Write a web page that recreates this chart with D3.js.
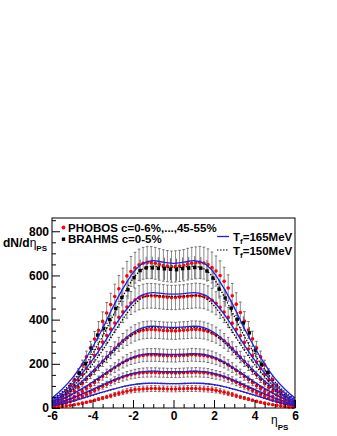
<!DOCTYPE html>
<html>
<head>
<meta charset="UTF-8">
<script src="https://d3js.org/d3.v7.min.js"></script>
<style>
body { margin: 0; background: #fff; }
svg { display: block; font-family: "Liberation Sans", Arial, sans-serif; }
</style>
</head>
<body>
<svg id="canvas"></svg>
<script>

// PHOBOS points, eta = -5.9 ... 5.9 in steps of 0.2
etaPhobos = [-5.9,-5.7,-5.5,-5.3,-5.1,-4.9,-4.7,-4.5,-4.3,-4.1,-3.9,-3.7,-3.5,-3.3,-3.1,-2.9,-2.7,-2.5,-2.3,-2.1,
             -1.9,-1.7,-1.5,-1.3,-1.1,-0.9,-0.7,-0.5,-0.3,-0.1,0.1,0.3,0.5,0.7,0.9,1.1,1.3,1.5,1.7,1.9,
             2.1,2.3,2.5,2.7,2.9,3.1,3.3,3.5,3.7,3.9,4.1,4.3,4.5,4.7,4.9,5.1,5.3,5.5,5.7,5.9];

phobos_0_6   = [28,40,56,76,100,128,160,195,232,272,312,352,392,430,468,505,540,570,598,618,635,648,655,658,658,655,650,645,642,640,
                641,643,646,651,655,657,659,656,649,636,620,600,574,543,508,470,432,393,353,313,272,232,195,160,128,100,76,56,40,28];
phobos_6_15  = [22,32,45,61,80,102,126,152,179,208,238,268,298,328,357,385,411,435,457,475,489,499,505,508,508,507,505,503,501,500,
                500,502,503,506,507,509,508,505,498,488,474,456,434,410,384,356,327,297,267,237,208,179,152,126,102,80,61,45,32,22];
phobos_15_25 = [16,24,34,46,60,76,93,111,130,150,170,191,211,231,251,270,288,304,318,330,340,347,352,354,355,354,353,351,350,350,
                349,351,352,353,355,355,354,351,346,339,330,318,304,288,270,251,231,211,191,170,150,130,111,93,76,60,46,34,24,16];
phobos_25_35 = [11,17,24,32,41,52,63,75,88,101,115,129,143,157,170,183,195,206,216,224,230,235,238,240,240,240,239,238,237,237,
                236,238,238,239,241,240,239,238,234,230,223,215,206,195,183,170,157,143,129,115,101,88,75,63,52,41,32,24,17,11];
phobos_35_45 = [8,12,17,22,29,36,44,52,61,70,79,89,98,107,116,125,133,140,146,151,155,158,160,161,161,161,160,160,159,159,
                158,159,160,161,161,162,161,160,158,154,150,146,140,133,125,116,107,98,89,79,70,61,52,44,36,29,22,17,12,8];
phobos_45_55 = [3,5,7,9,12,15,18,22,26,30,35,40,45,50,55,61,66,71,76,80,83,85,86,87,88,88,87,87,86,86,
                86,87,87,88,88,88,87,86,85,83,80,76,71,66,61,55,50,45,40,35,30,26,22,18,15,12,9,7,5,3];
phobosSeries = [phobos_0_6, phobos_6_15, phobos_15_25, phobos_25_35, phobos_35_45, phobos_45_55];
phobosErr = [0.11, 0.11, 0.11, 0.12, 0.13, 0.15];   // relative error

// BRAHMS 0-5%
etaBrahms = [-4.65,-4.35,-4.05,-3.75,-3.45,-3.15,-2.85,-2.55,-2.25,-1.95,-1.65,-1.35,-1.05,-0.75,-0.45,-0.15,
             0.15,0.45,0.75,1.05,1.35,1.65,1.95,2.25,2.55,2.85,3.15,3.45,3.75,4.05,4.35,4.65];
brahms_0_5 = [158,200,270,330,360,400,450,500,535,590,622,634,634,632,630,628,
              626,631,633,636,633,620,588,538,498,452,402,385,340,262,198,160];
brahmsErr = 0.08;

// model curves
etaModel = [-6,-5.5,-5,-4.5,-4,-3.5,-3,-2.5,-2,-1.5,-1,-0.5,0,0.5,1,1.5,2,2.5,3,3.5,4,4.5,5,5.5,6];
tf165 = [
  [45,85,135,200,275,360,455,540,612,655,667,660,655,660,667,655,612,540,455,360,275,200,135,85,45],
  [36,67,107,158,218,285,357,425,480,513,522,518,515,518,522,513,480,425,357,285,218,158,107,67,36],
  [30,54,85,122,165,212,260,306,342,364,370,367,365,367,370,364,342,306,260,212,165,122,85,54,30],
  [23,41,63,89,118,149,180,208,230,243,246,244,243,244,246,243,230,208,180,149,118,89,63,41,23],
  [16,29,45,64,84,105,125,143,157,165,167,165,164,165,167,165,157,143,125,105,84,64,45,29,16],
  [11,20,31,44,58,72,85,97,106,111,113,111,110,111,113,111,106,97,85,72,58,44,31,20,11]
];
tf150 = [
  [40,73,118,175,245,325,415,505,585,630,642,638,635,638,642,630,585,505,415,325,245,175,118,73,40],
  [32,59,95,142,198,262,332,402,463,500,510,507,505,507,510,500,463,402,332,262,198,142,95,59,32],
  [28,50,79,114,156,202,250,296,334,357,364,362,360,362,364,357,334,296,250,202,156,114,79,50,28],
  [22,39,61,86,114,145,176,204,227,241,244,242,241,242,244,241,227,204,176,145,114,86,61,39,22],
  [15,28,44,62,82,103,123,141,155,164,166,164,163,164,166,164,155,141,123,103,82,62,44,28,15],
  [10,19,30,43,57,71,84,96,105,111,112,111,110,111,112,111,105,96,84,71,57,43,30,19,10]
];

yTicks = [0, 200, 400, 600, 800];
xTicks = [-6, -4, -2, 0, 2, 4, 6];

width = 337;
height = 436;

canvas = d3.select("#canvas")
    .attr("width", width)
    .attr("height", height);

x = d3.scaleLinear().domain([-6, 6]).range([52, 295]);
y = d3.scaleLinear().domain([0, 860]).range([408, 218]);

// PHOBOS error bars + points
phobosSeries.forEach(function(vals, i) {
    var e = phobosErr[i];
    var g = canvas.append("g");
    var pts = vals.map((v, j) => ({eta: etaPhobos[j], v: v}));
    g.selectAll("line.bar").data(pts).enter().append("line")
        .attr("x1", d => x(d.eta)).attr("x2", d => x(d.eta))
        .attr("y1", d => y(d.v * (1 - e))).attr("y2", d => y(d.v * (1 + e)))
        .attr("style", "stroke:#8c8c8c; stroke-width:1;");
    [1 - e, 1 + e].forEach(function(f) {
        g.selectAll(null).data(pts).enter().append("line")
            .attr("x1", d => x(d.eta) - 1.3).attr("x2", d => x(d.eta) + 1.3)
            .attr("y1", d => y(d.v * f)).attr("y2", d => y(d.v * f))
            .attr("style", "stroke:#555; stroke-width:0.8;");
    });
    g.selectAll("circle").data(pts).enter().append("circle")
        .attr("cx", d => x(d.eta)).attr("cy", d => y(d.v))
        .attr("r", 1.8)
        .attr("fill", "#ff0000");
});

// BRAHMS
bpts = brahms_0_5.map((v, j) => ({eta: etaBrahms[j], v: v}));
canvas.append("g").selectAll("line").data(bpts).enter().append("line")
    .attr("x1", d => x(d.eta)).attr("x2", d => x(d.eta))
    .attr("y1", d => y(d.v * (1 - brahmsErr))).attr("y2", d => y(d.v * (1 + brahmsErr)))
    .attr("style", "stroke:#666; stroke-width:1;");
canvas.append("g").selectAll("rect").data(bpts).enter().append("rect")
    .attr("x", d => x(d.eta) - 1.7).attr("y", d => y(d.v) - 1.7)
    .attr("width", 3.4).attr("height", 3.4)
    .attr("fill", "#000");

// model curves
line = d3.line()
    .x((d, j) => x(etaModel[j]))
    .y(d => y(d))
    .curve(d3.curveMonotoneX);

tf150.forEach(function(vals) {
    canvas.append("path").attr("d", line(vals))
        .attr("style", "fill:none; stroke:#000; stroke-width:1.2; stroke-dasharray:1.5,1.5;");
});
tf165.forEach(function(vals) {
    canvas.append("path").attr("d", line(vals))
        .attr("style", "fill:none; stroke:#1f1fe6; stroke-width:1.3;");
});

// axes
yAxis = canvas.append("g").attr("transform", "translate(52,0)")
    .call(d3.axisLeft(y).tickValues(yTicks).tickSize(-8).tickSizeOuter(0).tickPadding(3).tickFormat(d => String(d)));
canvas.append("g").attr("transform", "translate(52,0)")
    .call(d3.axisLeft(y).tickValues(d3.range(50, 860, 50).filter(v => v % 200 != 0)).tickSize(-4).tickSizeOuter(0).tickFormat(""));
xAxis = canvas.append("g").attr("transform", "translate(0,408)")
    .call(d3.axisBottom(x).tickValues(xTicks).tickSize(-8).tickSizeOuter(0).tickPadding(3).tickFormat(d => String(d)));
canvas.append("g").attr("transform", "translate(0,408)")
    .call(d3.axisBottom(x).tickValues(d3.range(-5.5, 6, 0.5).filter(v => v % 2 != 0)).tickSize(-4).tickSizeOuter(0).tickFormat(""));

canvas.selectAll(".domain").remove();
canvas.selectAll(".tick line").attr("stroke", "#000");
canvas.selectAll(".tick text")
    .attr("fill", "#000")
    .attr("font-size", 12)
    .attr("font-weight", "bold")
    .attr("font-family", "'Liberation Sans', Arial, sans-serif");

// frame
canvas.append("rect")
    .attr("x", 52).attr("y", 218).attr("width", 243).attr("height", 190)
    .attr("style", "fill:none; stroke:#000; stroke-width:1;");

// axis titles
yt = canvas.append("text").attr("x", 3).attr("y", 247).attr("font-size", 12).attr("font-weight", "bold");
yt.append("tspan").text("dN/d");
yt.append("tspan").attr("font-weight", "normal").text("η");
yt.append("tspan").attr("font-size", 8).attr("dy", 4).text("PS");

xt = canvas.append("text").attr("x", 271).attr("y", 424).attr("font-size", 12);
xt.append("tspan").text("η");
xt.append("tspan").attr("font-size", 8).attr("font-weight", "bold").attr("dy", 6).text("PS");

// legend
canvas.append("circle").attr("cx", 63.5).attr("cy", 227.5).attr("r", 1.9).attr("fill", "#ff0000");
canvas.append("text").attr("x", 68).attr("y", 231.5).attr("font-size", 11.5).attr("font-weight", "bold")
    .text("PHOBOS c=0-6%,...,45-55%");
canvas.append("rect").attr("x", 61.8).attr("y", 237.5).attr("width", 3.4).attr("height", 3.4).attr("fill", "#000");
canvas.append("text").attr("x", 68).attr("y", 243).attr("font-size", 11.5).attr("font-weight", "bold")
    .text("BRAHMS c=0-5%");

canvas.append("line").attr("x1", 217).attr("x2", 229).attr("y1", 236.5).attr("y2", 236.5)
    .attr("style", "stroke:#1f1fe6; stroke-width:1.3;");
t1 = canvas.append("text").attr("x", 233).attr("y", 241).attr("font-size", 11.5).attr("font-weight", "bold");
t1.append("tspan").text("T");
t1.append("tspan").attr("font-size", 8).attr("dy", 3).text("f");
t1.append("tspan").attr("dy", -3).text("=165MeV");

canvas.append("line").attr("x1", 217).attr("x2", 229).attr("y1", 250).attr("y2", 250)
    .attr("style", "stroke:#000; stroke-width:1.2; stroke-dasharray:1.5,1.5;");
t2 = canvas.append("text").attr("x", 233).attr("y", 254.5).attr("font-size", 11.5).attr("font-weight", "bold");
t2.append("tspan").text("T");
t2.append("tspan").attr("font-size", 8).attr("dy", 3).text("f");
t2.append("tspan").attr("dy", -3).text("=150MeV");

</script>
</body>
</html>
